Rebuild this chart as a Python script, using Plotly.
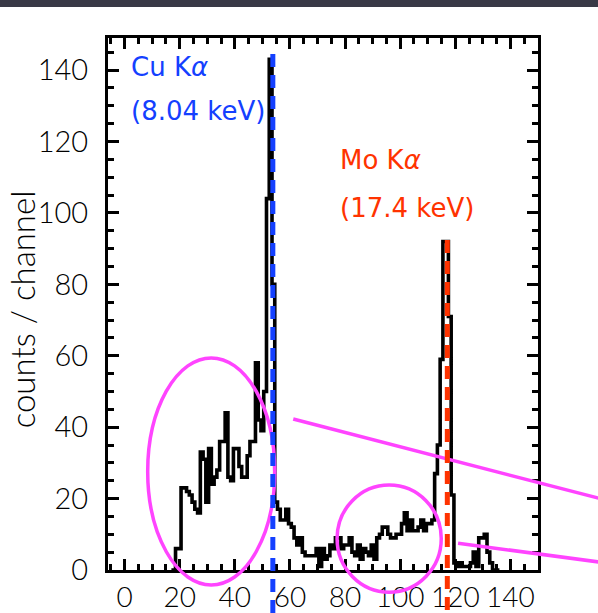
import plotly.graph_objects as go

# ---- data -------------------------------------------------------------
channels = list(range(17, 137))
counts = [
    0, 0, 6, 6, 23, 23, 22, 21, 19, 17,          # 17-26
    16, 33, 31, 19, 34, 24, 26, 28, 36, 36,      # 27-36
    44, 26, 25, 34, 34, 29, 26, 26, 32, 36,      # 37-46
    36, 58, 42, 39, 50, 104, 143, 80, 19, 17,    # 47-56
    14, 14, 17, 13, 12, 9, 7, 9, 5, 4,           # 57-66
    4, 4, 4, 6, 1, 6, 3, 4, 7, 6,                # 67-76
    9, 9, 6, 7, 7, 9, 5, 4, 7, 3,                # 77-86
    6, 5, 4, 7, 3, 9, 10, 12, 12, 10,            # 87-96
    9, 9, 10, 10, 13, 16, 11, 14, 11, 11,        # 97-106
    12, 14, 11, 13, 13, 14, 27, 35, 59, 92,      # 107-116
    92, 71, 21, 2, 1, 2, 1, 1, 1, 2,             # 117-126
    5, 1, 9, 9, 10, 5, 2, 0, 0, 0,               # 127-136
]
x_ticks = [0, 20, 40, 60, 80, 100, 120, 140]
y_ticks = [0, 20, 40, 60, 80, 100, 120, 140]
line_labels = ["Cu K<i>α</i>", "(8.04 keV)", "Mo K<i>α</i>", "(17.4 keV)"]
cu_energy_channel = 53.8
mo_energy_channel = 117.1

# ---- geometry ---------------------------------------------------------
W, H = 598, 613
ML, MR, MT, MB = 108, 60, 38, 43
XR = [-6, 150]
YR = [0, 149]


def px(x):
    return (x - XR[0]) / (XR[1] - XR[0])


def py(y):
    return (y - YR[0]) / (YR[1] - YR[0])


plot_h = H - MT - MB
plot_w = W - ML - MR

BLUE = "#1440ff"
RED = "#ff3300"
MAG = "#ff44ff"
FONT = "Lato"
ANN_FONT = "DejaVu Sans"
WT = 300

fig = go.Figure()
fig.add_trace(go.Scatter(
    x=channels, y=counts, mode="lines",
    line=dict(color="black", width=3.6, shape="hvh"),
    hoverinfo="skip", showlegend=False,
))

shapes = []
# dark strip at top of the slide
shapes.append(dict(type="rect", xref="paper", yref="paper",
                   x0=-ML / plot_w, x1=(W - ML) / plot_w,
                   y0=(plot_h + MT - 7) / plot_h, y1=(plot_h + MT) / plot_h,
                   fillcolor="#393946", line=dict(width=0), layer="above"))
# magenta ellipses and lines
shapes.append(dict(type="circle", xref="paper", yref="paper",
                   x0=px(8.4), x1=px(54.5), y0=py(-4.2), y1=py(59.4),
                   line=dict(color=MAG, width=3.5), layer="above"))
shapes.append(dict(type="circle", xref="paper", yref="paper",
                   x0=px(77.1), x1=px(114.9), y0=py(-6.2), y1=py(23.8),
                   line=dict(color=MAG, width=3.5), layer="above"))
shapes.append(dict(type="line", xref="paper", yref="paper",
                   x0=px(61.2), y0=py(42.3), x1=px(172.5), y1=py(20.0),
                   line=dict(color=MAG, width=3.5), layer="above"))
shapes.append(dict(type="line", xref="paper", yref="paper",
                   x0=px(121.0), y0=py(7.5), x1=px(172.5), y1=py(2.2),
                   line=dict(color=MAG, width=3.5), layer="above"))
# dashed energy lines
shapes.append(dict(type="line", xref="paper", yref="paper",
                   x0=px(cu_energy_channel), x1=px(cu_energy_channel),
                   y0=py(144.5), y1=-MB / plot_h,
                   line=dict(color=BLUE, width=5, dash="13px,8px"), layer="above"))
shapes.append(dict(type="line", xref="paper", yref="paper",
                   x0=px(mo_energy_channel), x1=px(mo_energy_channel),
                   y0=py(92.4), y1=-MB / plot_h,
                   line=dict(color=RED, width=5, dash="13px,8px"), layer="above"))

ann_font = dict(family=ANN_FONT, size=26)
annotations = [
    dict(x=1.6, y=141, xref="x", yref="y", text=line_labels[0], showarrow=False,
         xanchor="left", yanchor="middle", font=dict(ann_font, color=BLUE)),
    dict(x=1.6, y=128.5, xref="x", yref="y", text=line_labels[1], showarrow=False,
         xanchor="left", yanchor="middle", font=dict(ann_font, color=BLUE)),
    dict(x=77.5, y=114.8, xref="x", yref="y", text=line_labels[2], showarrow=False,
         xanchor="left", yanchor="middle", font=dict(ann_font, color=RED)),
    dict(x=77.5, y=101.4, xref="x", yref="y", text=line_labels[3], showarrow=False,
         xanchor="left", yanchor="middle", font=dict(ann_font, color=RED)),
    dict(x=-86 / plot_w, y=0.49, xref="paper", yref="paper", text="counts / channel",
         showarrow=False, textangle=-90, xanchor="center", yanchor="middle",
         font=dict(family=FONT, size=33, weight=WT, color="black")),
]

axis_common = dict(
    showgrid=False, zeroline=False, showline=True, linecolor="black", linewidth=3,
    mirror="ticks", ticks="inside", ticklen=11, tickwidth=2.5, tickcolor="black",
)

fig.update_layout(
    width=W, height=H,
    margin=dict(l=ML, r=MR, t=MT, b=MB, autoexpand=False),
    paper_bgcolor="white", plot_bgcolor="white",
    xaxis=dict(range=XR, tickvals=x_ticks, ticktext=[str(v) for v in x_ticks],
               minor=dict(dtick=5, tick0=0, ticklen=6, tickwidth=2.5,
                          tickcolor="black", ticks="inside"),
               tickfont=dict(family=FONT, size=28, weight=WT, color="black"),
               ticklabelstandoff=0, **axis_common),
    yaxis=dict(range=YR, tickvals=y_ticks, ticktext=[str(v) for v in y_ticks],
               minor=dict(dtick=5, tick0=0, ticklen=6, tickwidth=2.5,
                          tickcolor="black", ticks="inside"),
               tickfont=dict(family=FONT, size=29, weight=WT, color="black"),
               ticklabelstandoff=11, **axis_common),
    shapes=shapes,
    annotations=annotations,
    showlegend=False,
)

fig.write_html(
    "out.html",
    config={"displayModeBar": False},
    post_script="document.body.style.margin='0';document.body.style.overflow='hidden';",
)
